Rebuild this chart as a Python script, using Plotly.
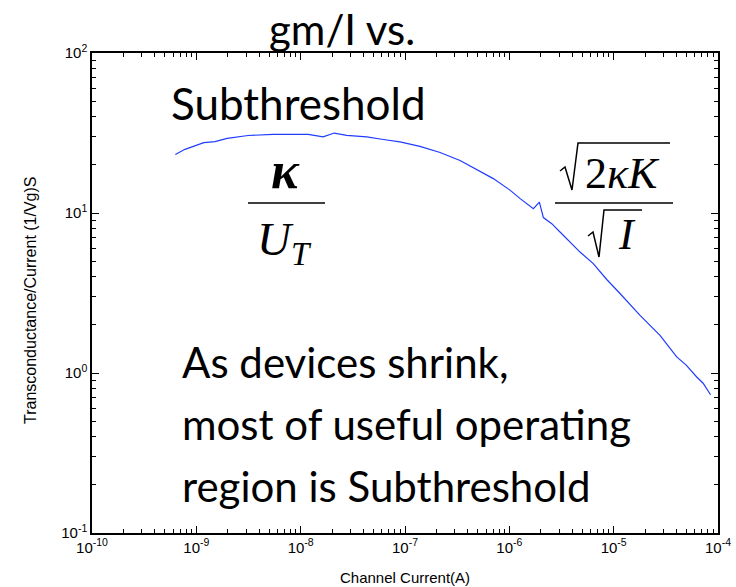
import plotly.graph_objects as go

# Channel current (A) and transconductance-to-current ratio (1/V)
channel_current = [
    6.29e-10, 7.79e-10, 1.18e-9, 1.51e-9, 1.97e-9, 3.13e-9, 5.43e-9, 1.18e-8,
    1.64e-8, 2.10e-8, 2.76e-8, 4.30e-8, 6.20e-8, 8.96e-8, 1.39e-7, 2.17e-7,
    3.37e-7, 5.24e-7, 7.02e-7, 1.015e-6, 1.27e-6, 1.70e-6, 1.94e-6, 2.12e-6,
    2.55e-6, 3.06e-6, 3.67e-6, 4.76e-6, 6.38e-6, 8.58e-6, 1.15e-5, 1.79e-5,
    2.78e-5, 4.02e-5, 4.96e-5, 5.60e-5, 6.25e-5, 7.20e-5, 7.52e-5, 8.48e-5,
]
gm_over_i = [
    23.2, 25.0, 27.5, 27.9, 29.3, 30.5, 31.0, 31.0,
    29.9, 31.6, 30.6, 29.9, 28.8, 27.8, 26.1, 23.9,
    21.3, 18.3, 16.4, 13.9, 12.3, 10.65, 11.7, 9.36,
    8.58, 7.61, 6.75, 5.70, 4.83, 3.84, 3.14, 2.29,
    1.72, 1.26, 1.12, 1.02, 0.944, 0.863, 0.826, 0.731,
]

x_tick_vals = [1e-10, 1e-9, 1e-8, 1e-7, 1e-6, 1e-5, 1e-4]
x_tick_text = ["10<sup>-10</sup>", "10<sup>-9</sup>", "10<sup>-8</sup>", "10<sup>-7</sup>",
               "10<sup>-6</sup>", "10<sup>-5</sup>", "10<sup>-4</sup>"]
y_tick_vals = [1e-1, 1e0, 1e1, 1e2]
y_tick_text = ["10<sup>-1</sup>", "10<sup>0</sup>", "10<sup>1</sup>", "10<sup>2</sup>"]
x_title = "Channel Current(A)"
y_title = "Transconductance/Current (1/Vg)S"

W, H = 736, 587
L, R, T, B = 92, 18, 53, 54
PW, PH = W - L - R, H - T - B


def px(x):
    return (x - L) / PW


def py(y):
    return (H - B - y) / PH


NARROW = "Liberation Sans Narrow, Liberation Sans, Arial"
TICK_FONT = dict(family=NARROW, size=15, color="black")
SLIDE_FONT = "Lato, Open Sans, sans-serif"
MATH_FONT = "Liberation Serif, Times New Roman, serif"

fig = go.Figure(go.Scatter(
    x=channel_current, y=gm_over_i, mode="lines",
    line=dict(color="#1f3cff", width=1.2), showlegend=False,
))

axis_common = dict(
    showgrid=False, zeroline=False, showline=True, linecolor="black", linewidth=1.5,
    mirror="ticks", ticks="inside", ticklen=7, tickwidth=1, tickcolor="black",
    tickfont=TICK_FONT, automargin=False,
    minor=dict(ticks="inside", ticklen=4, tickwidth=1, tickcolor="black", dtick="D1", showgrid=False),
)

fig.update_xaxes(
    type="log", range=[-10, -4], tickvals=x_tick_vals, ticktext=x_tick_text,
    **axis_common,
)
fig.update_yaxes(
    type="log", range=[-1, 2], tickvals=y_tick_vals, ticktext=y_tick_text,
    **axis_common,
)

slide = dict(family=SLIDE_FONT, size=42, color="black")
annotations = [
    # axis titles
    dict(x=px(405), y=py(577), text=x_title, font=dict(family=NARROW, size=15, color="black")),
    dict(x=px(30), y=py(300), text=y_title, textangle=-90, font=dict(family=NARROW, size=16, color="black")),
    # slide text
    dict(x=px(342), y=py(29), text="gm/I vs.", font=dict(family=SLIDE_FONT, size=42, color="black")),
    dict(x=px(298), y=py(103), text="Subthreshold", font=dict(family=SLIDE_FONT, size=44, color="black")),
    dict(x=px(180), y=py(362), text="As devices shrink,", xanchor="left", font=slide),
    dict(x=px(180), y=py(424), text="most of useful operating", xanchor="left", font=slide),
    dict(x=px(180), y=py(486), text="region is Subthreshold", xanchor="left", font=slide),
    # kappa / U_T
    dict(x=px(285), y=py(170), text="<b><i>κ</i></b>", font=dict(family=MATH_FONT, size=52, color="black")),
    dict(x=px(284), y=py(242), text="<i>U</i><sub><i>T</i></sub>", font=dict(family=MATH_FONT, size=47, color="black")),
    # sqrt(2 kappa K) / sqrt(I)
    dict(x=px(622), y=py(173), text="2<i>κK</i>", font=dict(family=MATH_FONT, size=44, color="black")),
    dict(x=px(627), y=py(234), text="<i>I</i>", font=dict(family=MATH_FONT, size=44, color="black")),
]
for a in annotations:
    a.setdefault("xanchor", "center")
    a.update(xref="paper", yref="paper", yanchor="middle", showarrow=False)


def path(points):
    return "M " + " L ".join(f"{px(x):.5f},{py(y):.5f}" for x, y in points)


line_style = dict(color="black", width=1.6)
shapes = [
    # fraction bars
    dict(type="line", xref="paper", yref="paper", x0=px(248), x1=px(325), y0=py(203), y1=py(203), line=line_style),
    dict(type="line", xref="paper", yref="paper", x0=px(555), x1=px(673), y0=py(203), y1=py(203), line=line_style),
    # radical signs
    dict(type="path", xref="paper", yref="paper", line=dict(color="black", width=1.5),
         path=path([(560, 171), (565, 167), (572, 190), (578, 143), (670, 143)])),
    dict(type="path", xref="paper", yref="paper", line=dict(color="black", width=1.5),
         path=path([(588, 236), (593, 232), (599, 257), (604, 210), (642, 210)])),
]

fig.update_layout(
    width=W, height=H, margin=dict(l=L, r=R, t=T, b=B, autoexpand=False),
    paper_bgcolor="white", plot_bgcolor="white",
    annotations=annotations, shapes=shapes,
)

fig.write_html("out.html")
